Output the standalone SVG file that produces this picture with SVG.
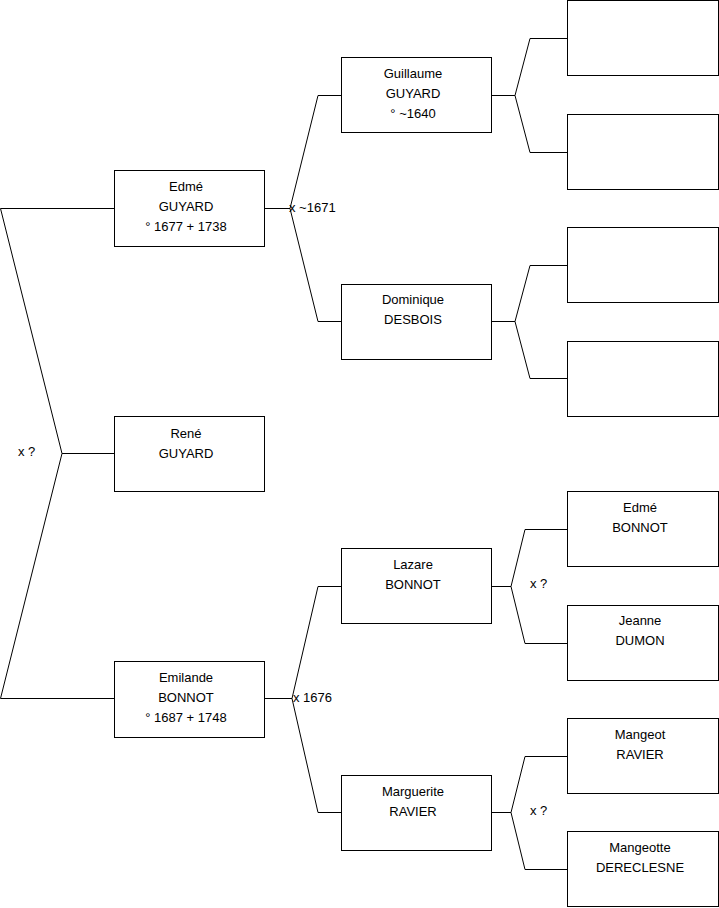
<svg xmlns="http://www.w3.org/2000/svg" width="719" height="908" viewBox="0 0 719 908">
<style>
.b{fill:#fff;stroke:#000;stroke-width:1}
.t{font-family:"Liberation Sans",Arial,sans-serif;font-size:13px;fill:#000;text-anchor:middle}
.l{font-family:"Liberation Sans",Arial,sans-serif;font-size:13px;fill:#000}
.c{fill:none;stroke:#000;stroke-width:1}
</style>
<rect width="719" height="908" fill="#fff"/>
<g id="connectors">
<polyline class="c" points="114,208.5 0.5,208.5 62,453.5 0.5,698.5 114,698.5"/>
<line class="c" x1="62" y1="453.5" x2="114" y2="453.5"/>
<polyline class="c" points="265,208.5 290,208.5"/>
<polyline class="c" points="341,95.5 318,95.5 290,208.5 318,321.5 341,321.5"/>
<polyline class="c" points="265,698.5 292,698.5"/>
<polyline class="c" points="341,586.5 318,586.5 292,698.5 318,812.5 341,812.5"/>
<polyline class="c" points="491,95.5 515,95.5"/>
<polyline class="c" points="567,38.5 530,38.5 515,95.5 530,152.5 567,152.5"/>
<polyline class="c" points="491,321.5 515,321.5"/>
<polyline class="c" points="567,265.5 530,265.5 515,321.5 530,378.5 567,378.5"/>
<polyline class="c" points="491,586.5 511,586.5"/>
<polyline class="c" points="567,529.5 525,529.5 511,586.5 525,643.5 567,643.5"/>
<polyline class="c" points="491,812.5 511,812.5"/>
<polyline class="c" points="567,756.5 525,756.5 511,812.5 525,869.5 567,869.5"/>
<text class="l" x="289" y="212">x ~1671</text>
<text class="l" x="293" y="702">x 1676</text>
<text class="l" x="18" y="456">x ?</text>
<text class="l" x="530" y="588">x ?</text>
<text class="l" x="530" y="815">x ?</text>
</g>
<g id="edme-guyard"><rect class="b" x="114.5" y="170.5" width="150" height="76"/>
<text class="t" x="186" y="191">Edmé</text><text class="t" x="186" y="211">GUYARD</text><text class="t" x="186" y="231">° 1677 + 1738</text></g>
<g id="rene-guyard"><rect class="b" x="114.5" y="416.5" width="150" height="75"/>
<text class="t" x="186" y="438">René</text><text class="t" x="186" y="458">GUYARD</text></g>
<g id="emilande-bonnot"><rect class="b" x="114.5" y="661.5" width="150" height="76"/>
<text class="t" x="186" y="682">Emilande</text><text class="t" x="186" y="702">BONNOT</text><text class="t" x="186" y="722">° 1687 + 1748</text></g>
<g id="guillaume-guyard"><rect class="b" x="341.5" y="57.5" width="150" height="75"/>
<text class="t" x="413" y="78">Guillaume</text><text class="t" x="413" y="98">GUYARD</text><text class="t" x="413" y="118">° ~1640</text></g>
<g id="dominique-desbois"><rect class="b" x="341.5" y="284.5" width="150" height="75"/>
<text class="t" x="413" y="304">Dominique</text><text class="t" x="413" y="324">DESBOIS</text></g>
<g id="lazare-bonnot"><rect class="b" x="341.5" y="548.5" width="150" height="75"/>
<text class="t" x="413" y="569">Lazare</text><text class="t" x="413" y="589">BONNOT</text></g>
<g id="marguerite-ravier"><rect class="b" x="341.5" y="775.5" width="150" height="75"/>
<text class="t" x="413" y="796">Marguerite</text><text class="t" x="413" y="816">RAVIER</text></g>
<g id="empty-1"><rect class="b" x="567.5" y="0.5" width="151" height="75"/></g>
<g id="empty-2"><rect class="b" x="567.5" y="114.5" width="151" height="75"/></g>
<g id="empty-3"><rect class="b" x="567.5" y="227.5" width="151" height="75"/></g>
<g id="empty-4"><rect class="b" x="567.5" y="341.5" width="151" height="75"/></g>
<g id="edme-bonnot"><rect class="b" x="567.5" y="491.5" width="151" height="75"/>
<text class="t" x="640" y="512">Edmé</text><text class="t" x="640" y="532">BONNOT</text></g>
<g id="jeanne-dumon"><rect class="b" x="567.5" y="605.5" width="151" height="75"/>
<text class="t" x="640" y="625">Jeanne</text><text class="t" x="640" y="645">DUMON</text></g>
<g id="mangeot-ravier"><rect class="b" x="567.5" y="718.5" width="151" height="75"/>
<text class="t" x="640" y="739">Mangeot</text><text class="t" x="640" y="759">RAVIER</text></g>
<g id="mangeotte-dereclesne"><rect class="b" x="567.5" y="831.5" width="151" height="75"/>
<text class="t" x="640" y="852">Mangeotte</text><text class="t" x="640" y="872">DERECLESNE</text></g>
</svg>
